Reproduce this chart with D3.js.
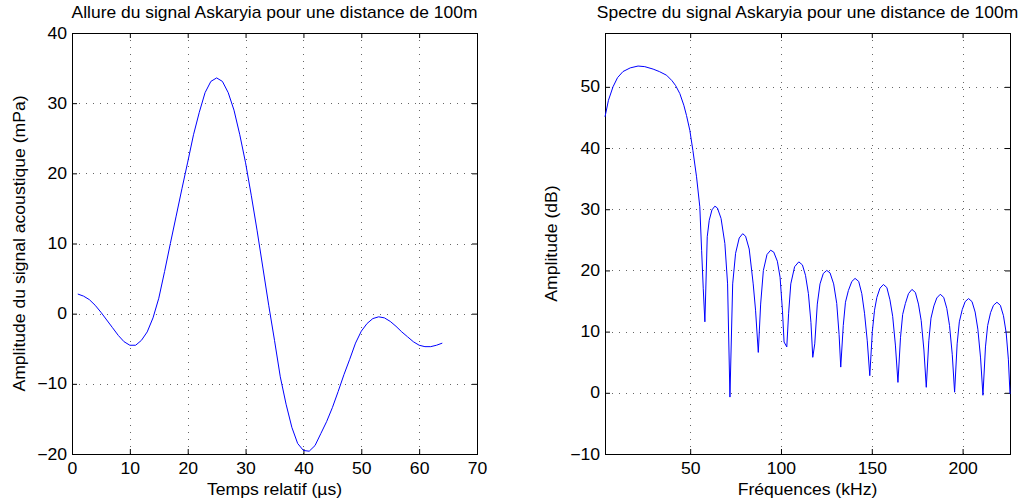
<!DOCTYPE html>
<html>
<head>
<meta charset="utf-8">
<script src="https://cdn.jsdelivr.net/npm/d3@7"></script>
<style>
  html, body { margin: 0; padding: 0; background: #fff; }
  svg { display: block; font-family: "Liberation Sans", Arial, Helvetica, sans-serif; }
</style>
</head>
<body>
<svg id="chart" width="1029" height="504"></svg>
<script>
// ---------- Data: left plot (time signal) ----------
const timeUs = [1,2,3,4,5,6,7,8,9,10,11,12,13,14,15,16,17,18,19,20,21,22,23,24,25,26,27,28,29,30,31,32,
  33,34,35,36,37,38,39,40,41,42,43,44,45,46,47,48,49,50,51,52,53,54,55,56,57,58,59,60,61,62,63,64];
const amplitudeMPa = [2.8,2.5,2.0,1.2,0.2,-0.9,-2.0,-3.1,-4.0,-4.5,-4.5,-3.8,-2.6,-0.6,2.2,6.0,10.0,13.9,17.8,21.6,
  25.5,28.7,31.5,33.1,33.6,33.1,31.5,29.0,25.5,21.5,16.8,11.8,6.5,1.2,-3.8,-9.0,-12.9,-16.2,-18.5,-19.5,
  -19.6,-18.8,-17.1,-15.4,-13.4,-11.1,-8.7,-6.5,-4.2,-2.5,-1.4,-0.7,-0.45,-0.6,-1.1,-1.8,-2.6,-3.3,-4.0,-4.5,
  -4.7,-4.7,-4.5,-4.2];

// ---------- Data: right plot (spectrum) ----------
const freqKHz = [3.1,5,7.5,10,13,17,21.3,25,29.6,33,37,40,42,44.3,46.5,48,49.8,51.5,53.5,55.3,56.3,57.2,58.1,
  59.4,60.5,62,63.6,65,67,69.1,70.6,71.9,
  73.4,75,77,78.9,80.5,82.5,84.7,86,87.5,
  88.8,90.3,92.3,94.3,96,98,99.5,100.8,101.7,103.2,
  104.2,105.4,107.5,109.8,111.8,113.5,115.1,116.5,117.5,
  118.6,120,121.5,123.3,125.2,127,129,130.7,132,132.9,
  134.3,135.5,137.1,139,140.8,142.8,144.5,146,147.5,148.9,
  150.3,151.5,152.8,154.5,156.4,158.3,160,161.5,163,164.4,
  165.8,167,168.5,170.2,172.1,174,175.7,177.2,178.7,180.0,
  181.4,182.6,184.2,185.8,187.7,189.6,191.3,192.8,194.3,195.6,
  197,198.2,199.8,201.4,203.3,205.2,206.9,208.4,209.9,211.2,
  212.6,213.8,215.4,217,218.9,220.8,222.5,224,225.2,226.1];
const spectrumDB = [45.1,47.8,50.0,51.5,52.5,53.1,53.4,53.3,52.9,52.5,51.9,51.0,50.2,48.9,47.0,45.3,42.9,39.6,35.3,30.4,23.3,17.0,11.6,
  25.5,28.2,29.9,30.5,30.2,28.5,24.4,17.8,-0.7,
  17.8,22.8,25.3,26.0,25.6,23.5,17.8,13.5,6.6,
  14.5,20.0,22.6,23.3,23.0,21.5,18.9,13.5,8.3,7.5,
  13.0,17.8,20.6,21.4,20.9,19.2,16.2,11.5,5.8,
  8.0,14.5,17.8,19.5,20.0,19.6,17.8,14.6,9.5,4.2,
  11.0,14.8,16.7,18.2,18.7,18.2,16.2,13.0,8.5,2.8,
  10.0,13.5,15.6,17.1,17.7,17.2,15.2,12.5,7.8,1.7,
  9.0,12.8,14.6,16.2,16.9,16.4,14.5,11.8,7.0,0.9,
  8.5,12.2,14.2,15.5,16.1,15.6,13.8,11.0,6.3,0.1,
  8.0,11.6,13.6,14.9,15.4,14.9,13.2,10.4,5.7,-0.4,
  7.5,11.0,13.1,14.3,14.8,14.3,12.6,9.8,5.5,-0.2];

// ---------- Tick labels / axes ----------
const leftXTicks = [0,10,20,30,40,50,60,70];
const leftYTicks = [-20,-10,0,10,20,30,40];
const rightXTicks = [50,100,150,200];
const rightYTicks = [-10,0,10,20,30,40,50];
const leftXDomain = [0,70];
const leftYDomain = [-20,40];
const rightXDomain = [3.1,226.1];
const rightYDomain = [-10,58.8];

const leftTitle = "Allure du signal Askaryia pour une distance de 100m";
const leftXLabel = "Temps relatif (\u00b5s)";
const leftYLabel = "Amplitude du signal acoustique (mPa)";
const rightTitle = "Spectre du signal Askaryia pour une distance de 100m";
const rightXLabel = "Fr\u00e9quences (kHz)";
const rightYLabel = "Amplitude (dB)";

const svg = d3.select("#chart");
const FS = 16;
const SX = 1.1;     // horizontal stretch of the original's font
const SX_TITLE = 1.09;

function stretch(sel, sx) {
  sel.each(function() {
    const t = d3.select(this);
    const tx = +t.attr("x") || 0, ty = +t.attr("y") || 0;
    t.attr("x", 0).attr("y", 0).attr("transform", `translate(${tx},${ty}) scale(${sx},1)`);
  });
}

function drawPanel(cfg) {
  const {x0, x1, y0, y1, xDomain, yDomain, xTicks, yTicks, xs, ys, title, xLabel, yLabel, yLabelX} = cfg;
  const x = d3.scaleLinear().domain(xDomain).range([x0, x1]);
  const y = d3.scaleLinear().domain(yDomain).range([y1, y0]);
  const g = svg.append("g");

  // grid (dotted)
  const grid = g.append("g").attr("stroke", "#666").attr("stroke-width", 1)
    .attr("stroke-dasharray", "1,6").attr("fill", "none");
  xTicks.filter(t => x(t) > x0 + 1 && x(t) < x1 - 1).forEach(t => {
    grid.append("line").attr("x1", Math.round(x(t)) + 0.5).attr("x2", Math.round(x(t)) + 0.5)
      .attr("y1", y0).attr("y2", y1);
  });
  yTicks.filter(t => y(t) > y0 + 1 && y(t) < y1 - 1).forEach(t => {
    grid.append("line").attr("y1", Math.round(y(t)) + 0.5).attr("y2", Math.round(y(t)) + 0.5)
      .attr("x1", x0).attr("x2", x1);
  });

  // axes with inward ticks
  const tl = 5;
  const ax = g.append("g").attr("transform", `translate(0,${y1})`)
    .call(d3.axisBottom(x).tickValues(xTicks).tickSizeInner(-tl).tickSizeOuter(0).tickPadding(9));
  const axTop = g.append("g").attr("transform", `translate(0,${y0})`)
    .call(d3.axisTop(x).tickValues(xTicks).tickSizeInner(-tl).tickSizeOuter(0).tickFormat(""));
  const ay = g.append("g").attr("transform", `translate(${x0},0)`)
    .call(d3.axisLeft(y).tickValues(yTicks).tickSizeInner(-tl).tickSizeOuter(0).tickPadding(5)
      .tickFormat(d => d < 0 ? "\u2212" + Math.abs(d) : d));
  const ayR = g.append("g").attr("transform", `translate(${x1},0)`)
    .call(d3.axisRight(y).tickValues(yTicks).tickSizeInner(-tl).tickSizeOuter(0).tickFormat(""));
  [ax, axTop, ay, ayR].forEach(a => {
    a.select(".domain").remove();
    a.selectAll("line").attr("stroke", "#000");
    a.selectAll("text").attr("font-size", FS).attr("font-family", null).attr("fill", "#000");
  });
  ax.selectAll("text").attr("dy", "0.71em");
  stretch(ax.selectAll("text"), SX);
  stretch(ay.selectAll("text"), SX);

  // box
  g.append("rect").attr("x", x0 + 0.5).attr("y", y0 + 0.5).attr("width", x1 - x0).attr("height", y1 - y0)
    .attr("fill", "none").attr("stroke", "#000").attr("stroke-width", 1);

  // curve
  const data = xs.map((v, i) => [v, ys[i]]);
  g.append("path").datum(data)
    .attr("fill", "none").attr("stroke", "#0000ff").attr("stroke-width", 1)
    .attr("d", d3.line().x(d => x(d[0])).y(d => y(d[1])));

  // labels
  const tt = g.append("text").attr("x", (x0 + x1) / 2).attr("y", 18).attr("text-anchor", "middle")
    .attr("font-size", FS).text(title);
  stretch(tt, SX_TITLE);
  const xl = g.append("text").attr("x", (x0 + x1) / 2).attr("y", 495).attr("text-anchor", "middle")
    .attr("font-size", FS).text(xLabel);
  stretch(xl, SX);
  g.append("text").attr("transform", `translate(${yLabelX},${(y0 + y1) / 2}) rotate(-90) scale(${SX},1)`)
    .attr("text-anchor", "middle").attr("font-size", FS).text(yLabel);
}

drawPanel({x0: 72, x1: 477, y0: 33, y1: 454, xDomain: leftXDomain, yDomain: leftYDomain,
  xTicks: leftXTicks, yTicks: leftYTicks, xs: timeUs, ys: amplitudeMPa,
  title: leftTitle, xLabel: leftXLabel, yLabel: leftYLabel, yLabelX: 25});
drawPanel({x0: 605, x1: 1010, y0: 33, y1: 454, xDomain: rightXDomain, yDomain: rightYDomain,
  xTicks: rightXTicks, yTicks: rightYTicks, xs: freqKHz, ys: spectrumDB,
  title: rightTitle, xLabel: rightXLabel, yLabel: rightYLabel, yLabelX: 557});
</script>
</body>
</html>
